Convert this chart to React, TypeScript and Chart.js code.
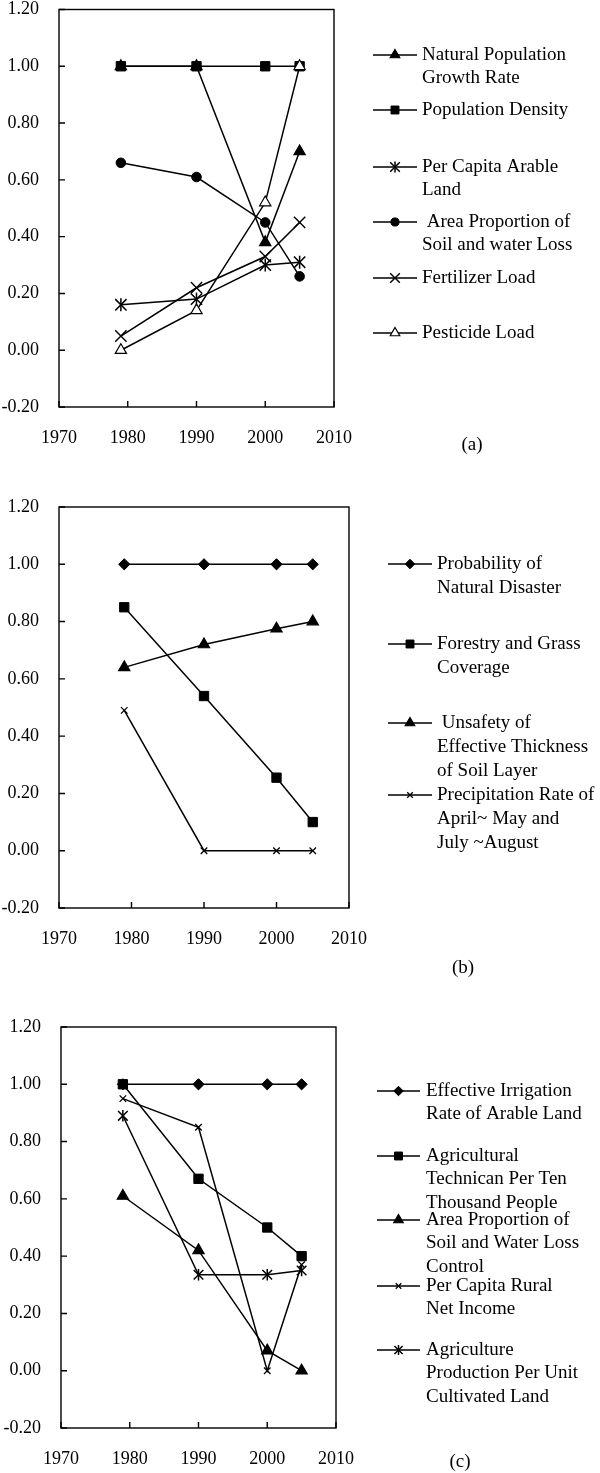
import React, { useEffect, useRef } from 'react';
import { Chart, registerables } from 'chart.js';
import { drawPoint } from 'chart.js/helpers';

Chart.register(...registerables);

// ---------------- data ----------------
const years = [1979, 1990, 2000, 2005];
const xTickValues = [1970, 1980, 1990, 2000, 2010];
const yTickValues = [-0.2, 0, 0.2, 0.4, 0.6, 0.8, 1.0, 1.2];

// Panel (a)
const aNames = [
  'Natural Population\nGrowth Rate',
  'Population Density',
  'Per Capita Arable\nLand',
  ' Area Proportion of\nSoil and water Loss',
  'Fertilizer Load',
  'Pesticide Load',
];
const aNaturalGrowth = [1.0, 1.0, 0.38, 0.7];
const aPopDensity = [1.0, 1.0, 1.0, 1.0];
const aArableLand = [0.16, 0.18, 0.3, 0.31];
const aSoilLoss = [0.66, 0.61, 0.45, 0.26];
const aFertilizer = [0.05, 0.22, 0.33, 0.45];
const aPesticide = [0.0, 0.14, 0.52, 1.0];

// Panel (b)
const bNames = [
  'Probability of\nNatural Disaster',
  'Forestry and Grass\nCoverage',
  ' Unsafety of\nEffective Thickness\nof Soil Layer',
  'Precipitation Rate of\nApril~ May and\nJuly ~August',
];
const bDisaster = [1.0, 1.0, 1.0, 1.0];
const bForestry = [0.85, 0.54, 0.255, 0.1];
const bUnsafety = [0.64, 0.72, 0.775, 0.8];
const bPrecipitation = [0.49, 0.0, 0.0, 0.0];

// Panel (c)
const cNames = [
  'Effective Irrigation\nRate of Arable Land',
  'Agricultural\nTechnican Per Ten\nThousand People',
  'Area Proportion of\nSoil and Water Loss\nControl',
  'Per Capita Rural\nNet Income',
  'Agriculture\nProduction Per Unit\nCultivated Land',
];
const cIrrigation = [1.0, 1.0, 1.0, 1.0];
const cTechnician = [1.0, 0.67, 0.5, 0.4];
const cSoilControl = [0.61, 0.42, 0.07, 0.0];
const cIncome = [0.95, 0.85, 0.0, 0.37];
const cProduction = [0.89, 0.335, 0.335, 0.35];

// ---------------- styling / layout ----------------
const FONT_FAMILY = '"Liberation Serif", "Times New Roman", serif';

type Marker = { style: any; radius: number; fill: string; border: number; stem?: number };

type PanelCfg = {
  canvasTop: number;
  h: number;
  top: number;
  bottom: number;
  left: number;
  right: number;
  legend: { x1: number; x2: number; tx: number; ys: number[]; lh: number };
  tag: { text: string; x: number; y: number };
  names: string[];
  series: number[][];
  markers: Marker[];
};

const tri = (fill: string): Marker => ({ style: 'triangle', radius: 6.5, fill, border: 1.2 });
const square: Marker = { style: 'rect', radius: 6.6, fill: '#000', border: 1 };
const circle: Marker = { style: 'circle', radius: 4.8, fill: '#000', border: 1 };
const diamond: Marker = { style: 'rectRot', radius: 5.6, fill: '#000', border: 1 };
const bigX: Marker = { style: 'crossRot', radius: 8, fill: '#000', border: 1.4 };
const smallX: Marker = { style: 'crossRot', radius: 4.6, fill: '#000', border: 1.3 };
// asterisk = rotated cross plus a vertical stem (stem = half length)
const asteriskA: Marker = { style: 'crossRot', radius: 8, fill: '#000', border: 1.5, stem: 6.5 };
const asteriskC: Marker = { style: 'crossRot', radius: 6.8, fill: '#000', border: 1.5, stem: 5.8 };

const panels: PanelCfg[] = [
  {
    canvasTop: 0,
    h: 480,
    top: 6,
    bottom: 407,
    left: 59,
    right: 334,
    legend: { x1: 373, x2: 417, tx: 422, ys: [55, 110, 167, 222, 278, 333], lh: 23 },
    tag: { text: '(a)', x: 472, y: 445 },
    names: aNames,
    series: [aNaturalGrowth, aPopDensity, aArableLand, aSoilLoss, aFertilizer, aPesticide],
    markers: [tri('#000'), square, asteriskA, circle, bigX, tri('#fff')],
  },
  {
    canvasTop: 480,
    h: 500,
    top: 27,
    bottom: 428,
    left: 59,
    right: 349,
    legend: { x1: 388, x2: 432, tx: 437, ys: [84, 164, 243, 315], lh: 24 },
    tag: { text: '(b)', x: 463, y: 488 },
    names: bNames,
    series: [bDisaster, bForestry, bUnsafety, bPrecipitation],
    markers: [diamond, square, tri('#000'), smallX],
  },
  {
    canvasTop: 980,
    h: 493,
    top: 47,
    bottom: 448,
    left: 61,
    right: 336,
    legend: { x1: 377, x2: 420, tx: 426, ys: [111, 176, 240, 306, 370], lh: 23.5 },
    tag: { text: '(c)', x: 460, y: 482 },
    names: cNames,
    series: [cIrrigation, cTechnician, cSoilControl, cIncome, cProduction],
    markers: [diamond, square, tri('#000'), smallX, asteriskC],
  },
];

function drawStem(ctx: CanvasRenderingContext2D, x: number, y: number, half: number, lw: number) {
  ctx.save();
  ctx.strokeStyle = '#000';
  ctx.lineWidth = lw;
  ctx.beginPath();
  ctx.moveTo(x, y - half);
  ctx.lineTo(x, y + half);
  ctx.stroke();
  ctx.restore();
}

const framePlugin = {
  id: 'frame',
  beforeDatasetsDraw(chart: any) {
    const { ctx, chartArea: a, scales } = chart;
    ctx.save();
    ctx.strokeStyle = '#000';
    ctx.lineWidth = 1.4;
    ctx.strokeRect(a.left, a.top, a.right - a.left, a.bottom - a.top);
    const tl = 6;
    ctx.beginPath();
    scales.x.ticks.forEach((t: any) => {
      const px = scales.x.getPixelForValue(t.value);
      ctx.moveTo(px, a.bottom);
      ctx.lineTo(px, a.bottom - tl);
    });
    scales.y.ticks.forEach((t: any) => {
      const py = scales.y.getPixelForValue(t.value);
      ctx.moveTo(a.left, py);
      ctx.lineTo(a.left + tl, py);
    });
    ctx.stroke();
    ctx.restore();
  },
  afterDatasetsDraw(chart: any, _args: any, opts: any) {
    const { ctx } = chart;
    (opts.markers || []).forEach((m: Marker, i: number) => {
      if (!m.stem) return;
      const meta = chart.getDatasetMeta(i);
      meta.data.forEach((el: any) => drawStem(ctx, el.x, el.y, m.stem as number, m.border));
    });
  },
  afterDraw(chart: any, _args: any, opts: any) {
    const { ctx } = chart;
    const lg = opts.legend;
    if (!lg) return;
    ctx.save();
    chart.data.datasets.forEach((ds: any, i: number) => {
      const y = lg.ys[i];
      const mx = (lg.x1 + lg.x2) / 2;
      ctx.strokeStyle = '#000';
      ctx.lineWidth = 1.4;
      ctx.beginPath();
      ctx.moveTo(lg.x1, y);
      ctx.lineTo(lg.x2, y);
      ctx.stroke();
      ctx.fillStyle = ds.pointBackgroundColor;
      ctx.strokeStyle = '#000';
      ctx.lineWidth = ds.pointBorderWidth;
      drawPoint(
        ctx,
        {
          pointStyle: ds.pointStyle,
          radius: ds.pointRadius * 0.85,
          borderWidth: ds.pointBorderWidth,
          rotation: 0,
        } as any,
        mx,
        y
      );
      const m: Marker = opts.markers[i];
      if (m && m.stem) drawStem(ctx, mx, y, m.stem * 0.85, m.border);
      ctx.fillStyle = '#000';
      ctx.font = `19px ${FONT_FAMILY}`;
      ctx.textBaseline = 'middle';
      ctx.textAlign = 'left';
      String(ds.label)
        .split('\n')
        .forEach((line: string, j: number) => ctx.fillText(line, lg.tx, y + j * lg.lh));
    });
    const tag = opts.tag;
    ctx.fillStyle = '#000';
    ctx.font = `19px ${FONT_FAMILY}`;
    ctx.textAlign = 'center';
    ctx.textBaseline = 'middle';
    ctx.fillText(tag.text, tag.x, tag.y);
    ctx.restore();
  },
};

function buildConfig(p: PanelCfg): any {
  const markers = p.markers;
  const n = p.series.length;
  const datasets = p.series.map((vals, i) => ({
    label: p.names[i],
    data: years.map((x, k) => ({ x, y: vals[k] })),
    borderColor: '#000',
    borderWidth: 1.5,
    tension: 0,
    fill: false,
    pointStyle: markers[i].style,
    pointRadius: markers[i].radius,
    pointBackgroundColor: markers[i].fill,
    pointBorderColor: '#000',
    pointBorderWidth: markers[i].border,
    order: n - i,
  }));
  const tickFont = { family: FONT_FAMILY, size: 18 };
  return {
    type: 'line',
    data: { datasets },
    plugins: [framePlugin],
    options: {
      responsive: false,
      animation: false,
      events: [],
      layout: { padding: { left: 0, top: p.top, right: 600 - p.right, bottom: 0 } },
      plugins: {
        legend: { display: false },
        tooltip: { enabled: false },
        frame: { legend: p.legend, tag: p.tag, markers: p.markers },
      },
      scales: {
        x: {
          type: 'linear',
          min: 1970,
          max: 2010,
          afterBuildTicks: (s: any) => {
            s.ticks = xTickValues.map((v) => ({ value: v }));
          },
          ticks: {
            callback: (v: any) => String(v),
            padding: 20,
            font: tickFont,
            color: '#000',
            maxRotation: 0,
            autoSkip: false,
          },
          grid: { display: false, drawTicks: false },
          border: { display: false },
          afterFit: (s: any) => {
            s.height = p.h - p.bottom;
            s.paddingLeft = 0;
            s.paddingRight = 0;
            s.paddingTop = 0;
            s.paddingBottom = 0;
          },
        },
        y: {
          type: 'linear',
          min: -0.2,
          max: 1.2,
          afterBuildTicks: (s: any) => {
            s.ticks = yTickValues.map((v) => ({ value: v }));
          },
          ticks: {
            callback: (v: any) => Number(v).toFixed(2),
            padding: 20,
            font: tickFont,
            color: '#000',
            autoSkip: false,
          },
          grid: { display: false, drawTicks: false },
          border: { display: false },
          afterFit: (s: any) => {
            s.width = p.left;
            s.paddingLeft = 0;
            s.paddingRight = 0;
            s.paddingTop = 0;
            s.paddingBottom = 0;
          },
        },
      },
    },
  };
}

function Panel({ cfg }: { cfg: PanelCfg }) {
  const ref = useRef<HTMLCanvasElement>(null);
  useEffect(() => {
    const chart = new Chart(ref.current as HTMLCanvasElement, buildConfig(cfg));
    return () => chart.destroy();
  }, [cfg]);
  return (
    <canvas
      ref={ref}
      width={600}
      height={cfg.h}
      style={{ position: 'absolute', left: 0, top: cfg.canvasTop, width: 600, height: cfg.h, display: 'block' }}
    />
  );
}

export default function App() {
  return (
    <div style={{ position: 'absolute', left: 0, top: 0, width: 600, height: 1473, background: '#fff' }}>
      {panels.map((p, i) => (
        <Panel key={i} cfg={p} />
      ))}
    </div>
  );
}
